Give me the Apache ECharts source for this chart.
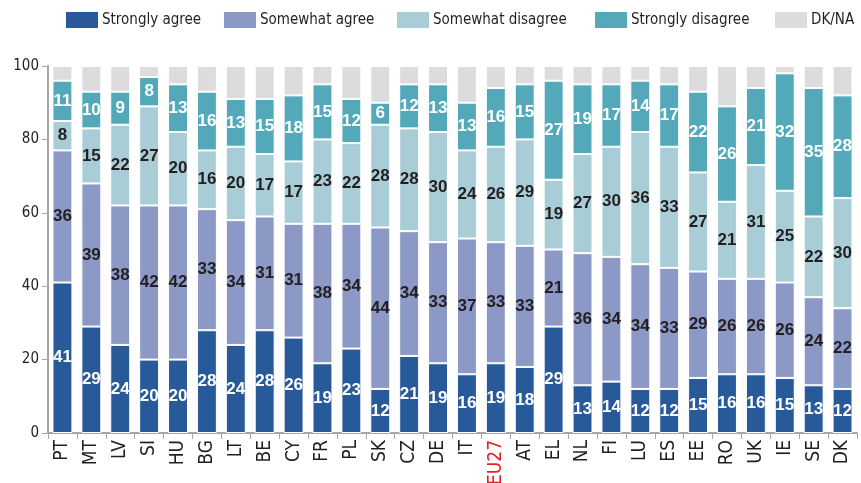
<!DOCTYPE html>
<html>
<head>
<meta charset="utf-8">
<script src="https://cdn.jsdelivr.net/npm/echarts@6/dist/echarts.min.js"></script>
<style>
  html, body { margin: 0; padding: 0; background: #fff; }
  #chart { width: 861px; height: 483px; }
</style>
</head>
<body>
<div id="chart"></div>
<script>
const NARROW = "'Liberation Sans Narrow', 'DejaVu Sans Condensed', sans-serif";
const TEXT = "#231f20";

const countries = ["PT", "MT", "LV", "SI", "HU", "BG", "LT", "BE", "CY", "FR", "PL", "SK", "CZ", "DE",
  "IT", "EU27", "AT", "EL", "NL", "FI", "LU", "ES", "EE", "RO", "UK", "IE", "SE", "DK"];

const stronglyAgree = [41, 29, 24, 20, 20, 28, 24, 28, 26, 19, 23, 12, 21, 19,
  16, 19, 18, 29, 13, 14, 12, 12, 15, 16, 16, 15, 13, 12];
const somewhatAgree = [36, 39, 38, 42, 42, 33, 34, 31, 31, 38, 34, 44, 34, 33,
  37, 33, 33, 21, 36, 34, 34, 33, 29, 26, 26, 26, 24, 22];
const somewhatDisagree = [8, 15, 22, 27, 20, 16, 20, 17, 17, 23, 22, 28, 28, 30,
  24, 26, 29, 19, 27, 30, 36, 33, 27, 21, 31, 25, 22, 30];
const stronglyDisagree = [11, 10, 9, 8, 13, 16, 13, 15, 18, 15, 12, 6, 12, 13,
  13, 16, 15, 27, 19, 17, 14, 17, 22, 26, 21, 32, 35, 28];
const dkna = [4, 7, 7, 3, 5, 7, 9, 9, 8, 5, 9, 10, 5, 5,
  10, 6, 5, 4, 5, 5, 4, 5, 7, 11, 6, 2, 6, 8];

const seriesDefs = [
  { name: "Strongly agree", data: stronglyAgree, color: "#285a9a", label: "#ffffff" },
  { name: "Somewhat agree", data: somewhatAgree, color: "#8c99c7", label: TEXT },
  { name: "Somewhat disagree", data: somewhatDisagree, color: "#a9cdd7", label: TEXT },
  { name: "Strongly disagree", data: stronglyDisagree, color: "#53a9ba", label: "#ffffff" },
  { name: "DK/NA", data: dkna, color: "#dcdcde", label: null },
];

// one legend per item so each sits where the original has it
const legendLeft = [64, 222, 395, 593, 773];

const chart = echarts.init(document.getElementById("chart"), null, { renderer: "canvas" });

chart.setOption({
  animation: false,
  legend: seriesDefs.map((s, i) => ({
    top: 10,
    left: legendLeft[i],
    padding: 0,
    itemWidth: 34,
    itemHeight: 18,
    icon: "rect",
    textStyle: { fontFamily: NARROW, fontSize: 15, color: TEXT, padding: [0, 0, 0, -2] },
    data: [s.name],
  })),
  grid: { left: 48, right: 4, top: 66, bottom: 50, outerBoundsMode: "none" },
  xAxis: {
    type: "category",
    data: countries,
    axisLine: { lineStyle: { color: "#a6a6a6", width: 2 } },
    axisTick: { show: true, length: 6, lineStyle: { color: "#a6a6a6" } },
    axisLabel: {
      rotate: 90,
      interval: 0,
      margin: 7,
      fontFamily: NARROW,
      fontSize: 19,
      color: (v) => (v === "EU27" ? "#ed1c24" : TEXT),
    },
  },
  yAxis: {
    type: "value",
    min: 0,
    max: 100,
    interval: 20,
    axisLine: { show: true, lineStyle: { color: "#a6a6a6", width: 2 } },
    axisTick: { show: true, length: 6, lineStyle: { color: "#a6a6a6" } },
    splitLine: { show: false },
    axisLabel: { fontFamily: NARROW, fontSize: 15, color: TEXT, margin: 9 },
  },
  series: seriesDefs.map((s) => ({
    name: s.name,
    type: "bar",
    stack: "total",
    barWidth: "69%",
    data: s.data,
    itemStyle: { color: s.color, borderColor: "#ffffff", borderWidth: 1 },
    label: s.label
      ? {
          show: true,
          position: "inside",
          color: s.label,
          fontFamily: "'Liberation Sans', Arial, sans-serif",
          fontWeight: "bold",
          fontSize: 17,
        }
      : { show: false },
  })),
});
</script>
</body>
</html>
